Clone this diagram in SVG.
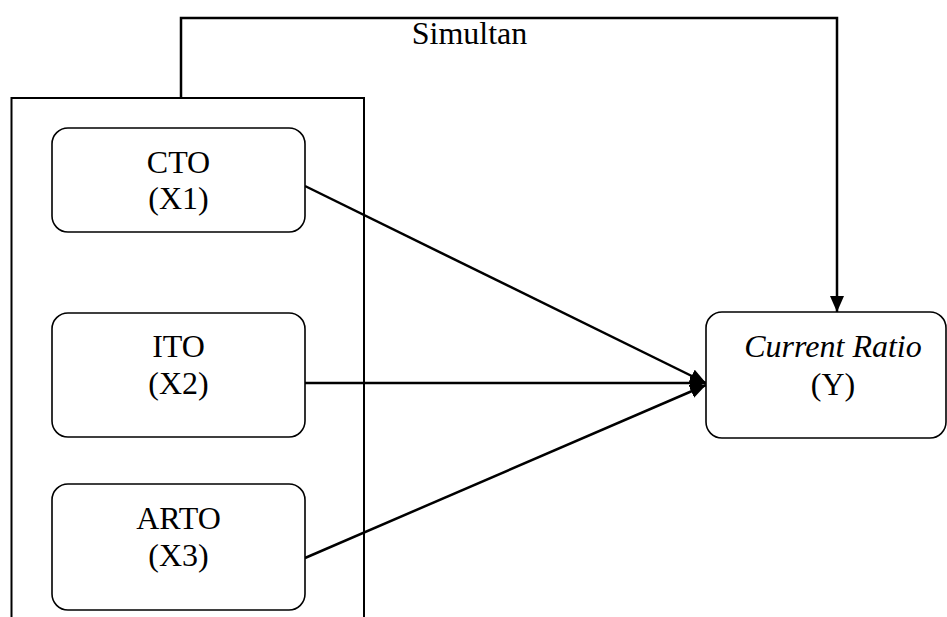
<svg xmlns="http://www.w3.org/2000/svg" width="947" height="617" viewBox="0 0 947 617">
<style>
.node{fill:#fff;stroke:#000;stroke-width:1.6}
.t{font-family:"Liberation Serif","Times New Roman",serif;font-size:32px;fill:#000;text-anchor:middle}
.i{font-style:italic}
.c{fill:none;stroke:#000;stroke-width:2.5}
.frame{fill:none;stroke:#000;stroke-width:2}
</style>
<defs>
<marker id="ah" markerUnits="userSpaceOnUse" markerWidth="16" markerHeight="14" refX="16" refY="7" orient="auto">
<path d="M0,0 L16,7 L0,14 z" fill="#000"/>
</marker>
</defs>
<g id="frame">
<path class="frame" d="M11.5,617 L11.5,98 L364,98 L364,617"/>
</g>
<g id="connectors">
<path class="c" d="M181,98 L181,18 L837,18 L837,312" marker-end="url(#ah)"/>
<line class="c" x1="305" y1="186" x2="706" y2="383" marker-end="url(#ah)"/>
<line class="c" x1="305" y1="383" x2="706" y2="383" marker-end="url(#ah)"/>
<line class="c" x1="305" y1="558" x2="706" y2="385" marker-end="url(#ah)"/>
</g>
<g id="label-simultan">
<text class="t" x="469.5" y="44">Simultan</text>
</g>
<g id="node-cto">
<rect class="node" x="52" y="128" width="253" height="104" rx="16"/>
<text class="t" x="178.5" y="173">CTO</text>
<text class="t" x="178.5" y="209">(X1)</text>
</g>
<g id="node-ito">
<rect class="node" x="52" y="313" width="253" height="124" rx="16"/>
<text class="t" x="178.5" y="357">ITO</text>
<text class="t" x="178.5" y="394">(X2)</text>
</g>
<g id="node-arto">
<rect class="node" x="52" y="484" width="253" height="126" rx="16"/>
<text class="t" x="178.5" y="529">ARTO</text>
<text class="t" x="178.5" y="566">(X3)</text>
</g>
<g id="node-y">
<rect class="node" x="706" y="312" width="240" height="126" rx="16"/>
<text class="t i" x="833" y="357">Current Ratio</text>
<text class="t" x="833" y="395">(Y)</text>
</g>
</svg>
